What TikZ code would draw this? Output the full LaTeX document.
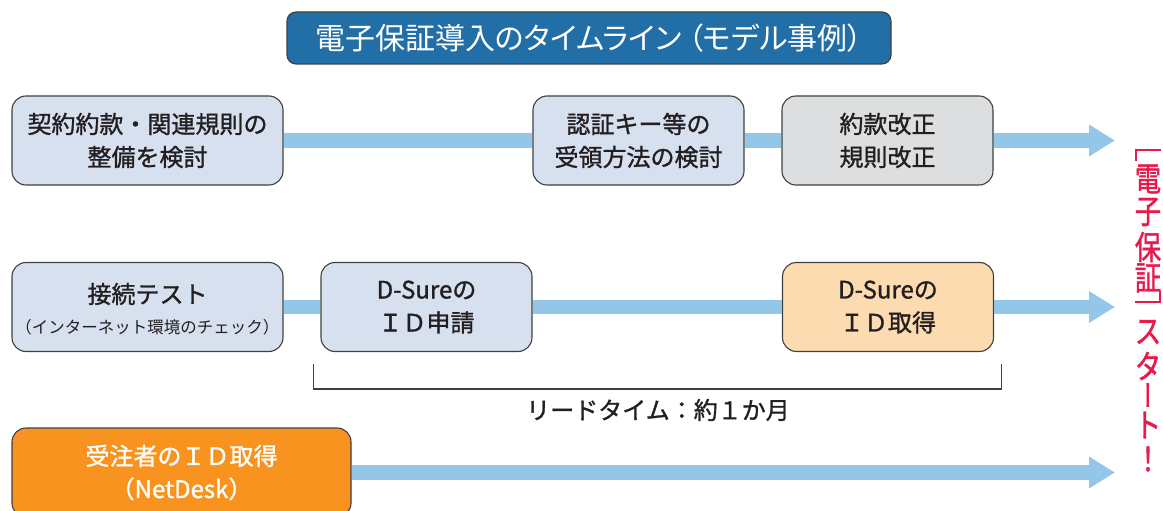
\documentclass[tikz,border=0pt]{standalone}
\usepackage{fontspec}
\setmainfont{Noto Sans CJK JP}
\newfontfamily\titlefont[RawFeature=+palt]{Noto Sans CJK JP}
\newfontfamily\medfont[FakeBold=1.2]{Noto Sans CJK JP}
\newfontfamily\vertfont[RawFeature=+vert,FakeBold=1.2]{Noto Sans CJK JP}
\usetikzlibrary{arrows.meta}
\definecolor{lb}{HTML}{D6E0EE}
\definecolor{gr}{HTML}{DDDEE0}
\definecolor{pch}{HTML}{FDDBB0}
\definecolor{org}{HTML}{F7931E}
\definecolor{ttl}{HTML}{226EA6}
\definecolor{bar}{HTML}{93C6E9}
\definecolor{bd}{HTML}{404040}
\definecolor{txt}{HTML}{231F20}
\definecolor{rd}{HTML}{E8194B}
\tikzset{
  box/.style={draw=bd, line width=1.1pt, rounded corners=14pt, inner sep=0pt,
    minimum height=89pt, align=center, text=txt,
    font=\medfont\fontsize{24}{33}\selectfont},
  plain/.style={text=txt, inner sep=0pt},
  flow/.style={draw=bar, line width=14.5pt, -{Triangle[length=26pt,width=30pt]}},
  seg/.style={draw=bar, line width=14.5pt},
  vch/.style={text=rd, inner sep=0pt, font=\medfont\fontsize{33}{33}\selectfont, xscale=0.8},
  brk/.style={draw=rd, line width=2.6pt},
}
\begin{document}
\begin{tikzpicture}[x=1pt,y=-1pt]
\clip (0,0) rectangle (1163,511);
\fill[white] (0,0) rectangle (1163,511);
\coordinate (t1) at (1115,140.5);
\coordinate (t2) at (1115,307);
\coordinate (t3) at (1115,472.5);
% title
\node[draw=bd, line width=1.1pt, fill=ttl, rounded corners=9pt, minimum width=604pt,
  minimum height=52pt, inner sep=0pt, text=white,
  font=\titlefont\fontsize{30}{30}\selectfont] (title) at (589,38) {電子保証導入のタイムライン\hspace{6pt}（モデル事例）};
% row 1
\node[box, fill=lb, minimum width=271pt] (a) at (147.5,140.5) {契約約款・関連規則の\\整備を検討};
\node[box, fill=lb, minimum width=211pt] (b) at (638.5,140.5) {認証キー等の\\受領方法の検討};
\node[box, fill=gr, minimum width=211pt] (c) at (887.5,140.5) {約款改正\\規則改正};
% row 2
\node[box, fill=lb, minimum width=271pt] (d) at (147.5,307) {};
\node[plain, font=\medfont\fontsize{24}{24}\selectfont] (d1) at (147.5,294) {接続テスト};
\node[plain, font=\fontsize{16.5}{16.5}\selectfont] (d2) at (147.5,327) {（インターネット環境のチェック）};
\node[box, fill=lb, minimum width=211pt] (e) at (426.5,307) {D-Sureの\\ＩＤ申請};
\node[box, fill=pch, minimum width=211pt] (f) at (888,307) {D-Sureの\\ＩＤ取得};
% row 3
\node[box, fill=org, minimum width=339pt, text=white] (g) at (181.5,472.5) {受注者のＩＤ取得\\（NetDesk）};
% connectors
\path[seg] (a.east) -- (b.west);
\path[seg] (b.east) -- (c.west);
\path[flow] (c.east) -- (t1);
\path[seg] (d.east) -- (e.west);
\path[seg] (e.east) -- (f.west);
\path[flow] (f.east) -- (t2);
\path[flow] (g.east) -- (t3);
% lead time bracket
\coordinate (bl) at (313.5,364);
\coordinate (br) at (1001.5,364);
\draw[bd, line width=1.3pt] (bl) |- (br |- 0,389) -- (br);
\node[plain, font=\medfont\fontsize{24}{24}\selectfont] (lead) at (658,410) {リードタイム：約１か月};
% vertical red text
\coordinate (k1) at (1136,150);
\coordinate (k2) at (1160,302);
\draw[brk] (k1) ++(0,11) -- (k1) -- ++(25,0);
\node[vch] (v1) at (1148,179) {電};
\node[vch] (v2) at (1148,212) {子};
\node[vch] (v3) at (1148,247) {保};
\node[vch] (v4) at (1148,278) {証};
\draw[brk] (k2) ++(0,-11) -- (k2) -- ++(-25,0);
\node[vch] (v5) at (1148,332) {ス};
\node[vch] (v6) at (1148,366) {タ};
\node[text=rd, inner sep=0pt, font=\vertfont\fontsize{30}{30}\selectfont, xscale=0.8] (v7) at (1148,395) {ー};
\node[vch] (v8) at (1148,425) {ト};
\node[vch] (v9) at (1148,459) {！};
\end{tikzpicture}
\end{document}
